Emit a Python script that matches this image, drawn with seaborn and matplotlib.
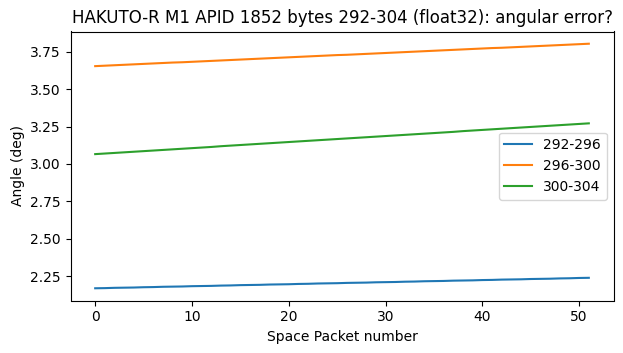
import numpy as np
import pandas as pd
import matplotlib
matplotlib.use("Agg")
import matplotlib.pyplot as plt
import seaborn as sns

######## Data
packet = list(range(52))
labels = ["292-296", "296-300", "300-304"]

angle_292_296 = [2.168, 2.169, 2.171, 2.172, 2.173, 2.175, 2.176, 2.178, 2.179, 2.180,
                 2.182, 2.183, 2.184, 2.186, 2.187, 2.189, 2.190, 2.191, 2.193, 2.194,
                 2.195, 2.197, 2.198, 2.200, 2.201, 2.202, 2.204, 2.205, 2.206, 2.208,
                 2.209, 2.210, 2.212, 2.213, 2.215, 2.216, 2.217, 2.219, 2.220, 2.221,
                 2.223, 2.224, 2.226, 2.227, 2.228, 2.230, 2.231, 2.232, 2.234, 2.235,
                 2.237, 2.238]
angle_296_300 = [3.655, 3.658, 3.661, 3.664, 3.667, 3.670, 3.673, 3.676, 3.679, 3.681,
                 3.684, 3.687, 3.690, 3.693, 3.696, 3.699, 3.702, 3.705, 3.708, 3.711,
                 3.714, 3.717, 3.720, 3.723, 3.726, 3.729, 3.731, 3.734, 3.737, 3.740,
                 3.743, 3.746, 3.749, 3.752, 3.755, 3.758, 3.761, 3.764, 3.767, 3.770,
                 3.773, 3.776, 3.778, 3.781, 3.784, 3.787, 3.790, 3.793, 3.796, 3.799,
                 3.802, 3.805]
angle_300_304 = [3.066, 3.070, 3.074, 3.078, 3.082, 3.086, 3.090, 3.094, 3.098, 3.102,
                 3.106, 3.110, 3.114, 3.119, 3.123, 3.127, 3.131, 3.135, 3.139, 3.143,
                 3.147, 3.151, 3.155, 3.159, 3.163, 3.167, 3.171, 3.175, 3.179, 3.183,
                 3.187, 3.191, 3.195, 3.199, 3.203, 3.207, 3.211, 3.215, 3.220, 3.224,
                 3.228, 3.232, 3.236, 3.240, 3.244, 3.248, 3.252, 3.256, 3.260, 3.264,
                 3.268, 3.272]

data = pd.DataFrame({
    "packet": packet * 3,
    "angle": angle_292_296 + angle_296_300 + angle_300_304,
    "bytes": [labels[0]] * 52 + [labels[1]] * 52 + [labels[2]] * 52,
})

######## Plot
fig, ax = plt.subplots(figsize=(6.23, 3.53), dpi=100)
fig.subplots_adjust(left=70.5/623, right=613.5/623, top=1-31.5/353, bottom=1-300.5/353)

sns.lineplot(data=data, x="packet", y="angle", hue="bytes",
             palette=["tab:blue", "tab:orange", "tab:green"], ax=ax)

ax.set_title("HAKUTO-R M1 APID 1852 bytes 292-304 (float32): angular error?")
ax.set_xlabel("Space Packet number")
ax.set_ylabel("Angle (deg)")
ax.legend(loc="center right")

plt.savefig("out.png", dpi=100)
